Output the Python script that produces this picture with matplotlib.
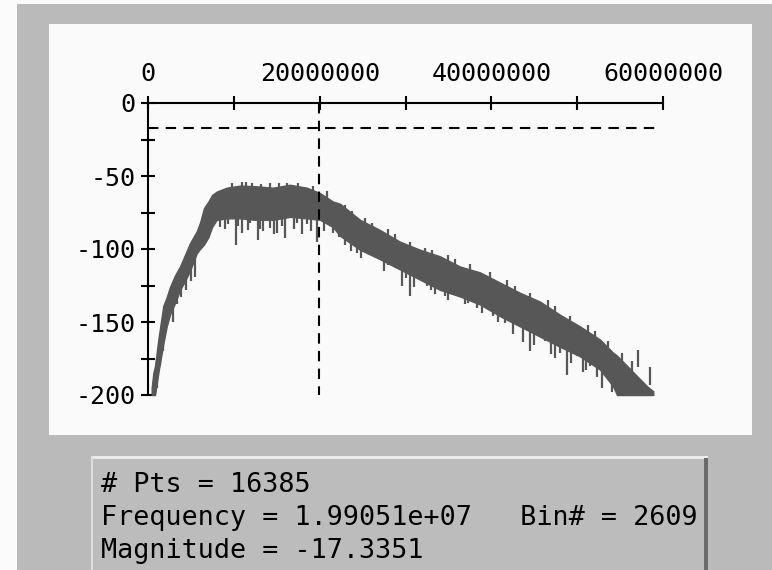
import numpy as np
import matplotlib
matplotlib.use("Agg")
import matplotlib.pyplot as plt
from matplotlib.patches import Rectangle
from matplotlib.ticker import FixedLocator, FuncFormatter

plt.rcParams['axes.unicode_minus'] = False
plt.rcParams['font.family'] = ['DejaVu Sans Mono', 'DejaVu Sans']

# ---- data (frequency in MHz, magnitude in dB) ----
env_freq_mhz = [0.43, 0.62, 0.82, 1.2, 1.78, 2.18, 2.56, 3.15, 3.73, 4.31, 4.89,
                5.67, 6.06, 6.52, 7.03, 7.46, 8.0, 9.17, 10.72, 12.47, 14.56,
                16.54, 18.49, 20.04, 21.55, 22.37, 24.7, 27.03, 29.36, 31.69,
                34.02, 36.35, 38.68, 41.01, 43.34, 45.67, 48.0, 50.33, 52.66,
                54.18, 54.64, 55.81, 56.97, 58.14, 58.87]
env_upper_db = [-195, -185, -180, -162, -139, -133, -126, -118, -112, -104, -96,
                -88, -82, -72, -67.5, -63, -60.7, -58, -56.6, -57, -58,
                -56, -58, -61.7, -67.5, -69, -80, -87, -95, -100.5,
                -105, -112, -116, -123, -130, -136, -145, -153, -162,
                -171, -173, -180, -187, -194, -197.5]
env_lower_db = [-200, -200, -200, -185, -165, -153, -145, -137, -128, -122, -115,
                -103, -100, -97, -92, -85, -80, -79, -79, -80, -80,
                -78, -79, -80, -85, -91, -100.5, -107, -114, -121,
                -128, -132.5, -138, -146, -153, -160, -167, -173.5, -182.6,
                -194, -200, -200, -200, -200, -200]

spike_freq_mhz = [1.4, 2.1, 3.35, 5.5, 8.4, 9.32, 10.2, 10.92, 11.9, 12.86, 13.44,
                  14.22, 14.98, 15.94, 16.31, 17.32, 18.49, 19.65, 21.6, 22.28,
                  23.68, 24.85, 25.7, 26.87, 28.0, 29.55, 30.53, 31.69, 32.48,
                  33.44, 34.6, 35.57, 37.33, 38.3, 39.8, 40.22, 41.6, 43.7,
                  44.5, 46.3, 47.4, 48.0, 48.78, 49.94, 50.72, 51.5, 52.86, 53.45,
                  1.0, 1.75, 2.9, 3.8, 4.4, 5.0,
                  9.0, 10.5, 11.6, 13.0, 14.7, 15.6, 17.0, 17.9, 19.0, 20.5,
                  23.0, 24.3, 27.5, 30.0, 31.0, 33.0, 35.0, 36.9, 38.9, 40.8,
                  42.5, 45.0, 46.9, 49.3, 51.0, 52.3, 54.0]
spike_bottom_db = [-180, -154, -138, -119, -85, -83, -97, -89, -82, -94, -88,
                   -85.5, -89, -92.6, -79, -82, -83, -95, -89, -91.5,
                   -101.7, -106, -104, -106, -111, -125.6, -132.5, -119, -125.6,
                   -131, -132.5, -131, -137, -140.5, -139, -146, -150.5, -164,
                   -170, -163, -174.6, -171, -186, -173.5, -184, -180, -195, -185,
                   -195, -170, -150, -133, -128, -122,
                   -86, -84, -87, -86, -90, -84, -86, -90, -88, -88,
                   -97, -103, -115, -120, -126, -128, -135, -138, -144, -150,
                   -158, -166, -172, -178, -183, -188, -198]

up_spike_freq_mhz = [10.9, 12.1, 14.2, 16.2, 17.5, 57.1, 58.5,
                     9.8, 11.4, 13.2, 15.3, 19.2, 20.8,
                     22.95, 23.77, 25.28, 26.1, 27.96, 28.78, 30.5, 32.27, 33.09,
                     34.95, 35.77, 37.52, 39.85, 41.83, 42.76, 44.51, 46.6, 47.42,
                     49.17, 51.27, 52.08, 53.6, 55.23, 56.39]
up_spike_top_db = [-54, -55, -55, -54.5, -55, -169, -181,
                   -55, -54, -55.5, -55, -57, -60,
                   -70, -74, -79, -82, -86, -90, -95, -99, -101,
                   -104, -107, -110, -116, -121, -125, -130, -135, -139,
                   -146, -152, -156, -163, -171, -177]

cursor_freq = 1.99051e7
cursor_mag = -17.3351
cursor_end_mhz = 59.3

x_major = [0, 20000000, 40000000, 60000000]
x_minor = [10000000, 30000000, 50000000]
y_major = [0, -50, -100, -150, -200]
y_minor = [-25, -75, -125, -175]

info_lines = ["# Pts = 16385",
              "Frequency = 1.99051e+07   Bin# = 2609",
              "Magnitude = -17.3351"]

# ---- figure ----
W, H = 772, 570
fig = plt.figure(figsize=(W / 100, H / 100), dpi=100)
fig.patch.set_facecolor('#fbfbfb')

def px_rect(x0, y0, x1, y1, **kw):
    r = Rectangle((x0 / W, 1 - y1 / H), (x1 - x0) / W, (y1 - y0) / H,
                  transform=fig.transFigure, **kw)
    fig.patches.append(r)
    return r

gray = '#bababa'
px_rect(17, 4, 772, 570, facecolor=gray, edgecolor='none', zorder=0)
px_rect(49, 24, 752, 435, facecolor='#fafafa', edgecolor='none', zorder=1)
# info box
px_rect(91, 456, 708, 575, facecolor='#bcbcbc', edgecolor='none', zorder=1)
px_rect(91, 456, 708, 459, facecolor='#ececec', edgecolor='none', zorder=2)
px_rect(91, 456, 93, 575, facecolor='#dedede', edgecolor='none', zorder=2)
px_rect(704, 458, 708, 575, facecolor='#6a6a6a', edgecolor='none', zorder=2)

ax_l, ax_r, ax_t, ax_b = 148, 663, 103, 395
ax = fig.add_axes([ax_l / W, 1 - ax_b / H, (ax_r - ax_l) / W, (ax_b - ax_t) / H])
ax.set_facecolor('none')
ax.set_zorder(3)
ax.set_xlim(0, 6e7)
ax.set_ylim(-200, 0)

trace_color = '#575757'
fx = np.array(env_freq_mhz) * 1e6
ax.fill_between(fx, env_lower_db, env_upper_db, color=trace_color,
                linewidth=1.0, edgecolor=trace_color, clip_on=False, zorder=2)
sx = np.array(spike_freq_mhz) * 1e6
sb = np.array(spike_bottom_db)
ax.vlines(sx, sb, sb + 18, color=trace_color, linewidth=1.6, zorder=2, clip_on=False)
ux = np.array(up_spike_freq_mhz) * 1e6
ut = np.array(up_spike_top_db)
ax.vlines(ux, ut - 12, ut, color=trace_color, linewidth=1.6, zorder=2, clip_on=False)

# cursor lines
ax.plot([0, cursor_end_mhz * 1e6], [cursor_mag, cursor_mag], color='black',
        linewidth=1.5, dashes=(5, 3.5), zorder=4, clip_on=False)
ax.plot([cursor_freq, cursor_freq], [0, -200], color='black',
        linewidth=1.5, dashes=(5, 3.5), zorder=4, clip_on=False)

# axes styling
for s in ['bottom', 'right']:
    ax.spines[s].set_visible(False)
for s in ['top', 'left']:
    ax.spines[s].set_linewidth(1.5)
    ax.spines[s].set_color('black')

ax.xaxis.set_ticks_position('top')
ax.xaxis.set_label_position('top')
ax.xaxis.set_major_locator(FixedLocator(x_major))
ax.xaxis.set_minor_locator(FixedLocator(x_minor))
ax.yaxis.set_major_locator(FixedLocator(y_major))
ax.yaxis.set_minor_locator(FixedLocator(y_minor))
ax.xaxis.set_major_formatter(FuncFormatter(lambda v, p: f"{int(round(v))}"))
ax.yaxis.set_major_formatter(FuncFormatter(lambda v, p: f"{int(round(v))}"))

ax.tick_params(axis='both', which='both', direction='inout', length=10,
               width=1.5, color='black', labelsize=18, labelcolor='black')
ax.tick_params(axis='x', which='both', pad=7)
ax.tick_params(axis='y', which='both', pad=4)

# info text
for i, line in enumerate(info_lines):
    fig.text(101 / W, 1 - (492 + i * 33) / H, line, fontsize=19.3,
             color='black', ha='left', va='baseline', zorder=5)

fig.savefig('out.png', dpi=100, facecolor=fig.get_facecolor())
